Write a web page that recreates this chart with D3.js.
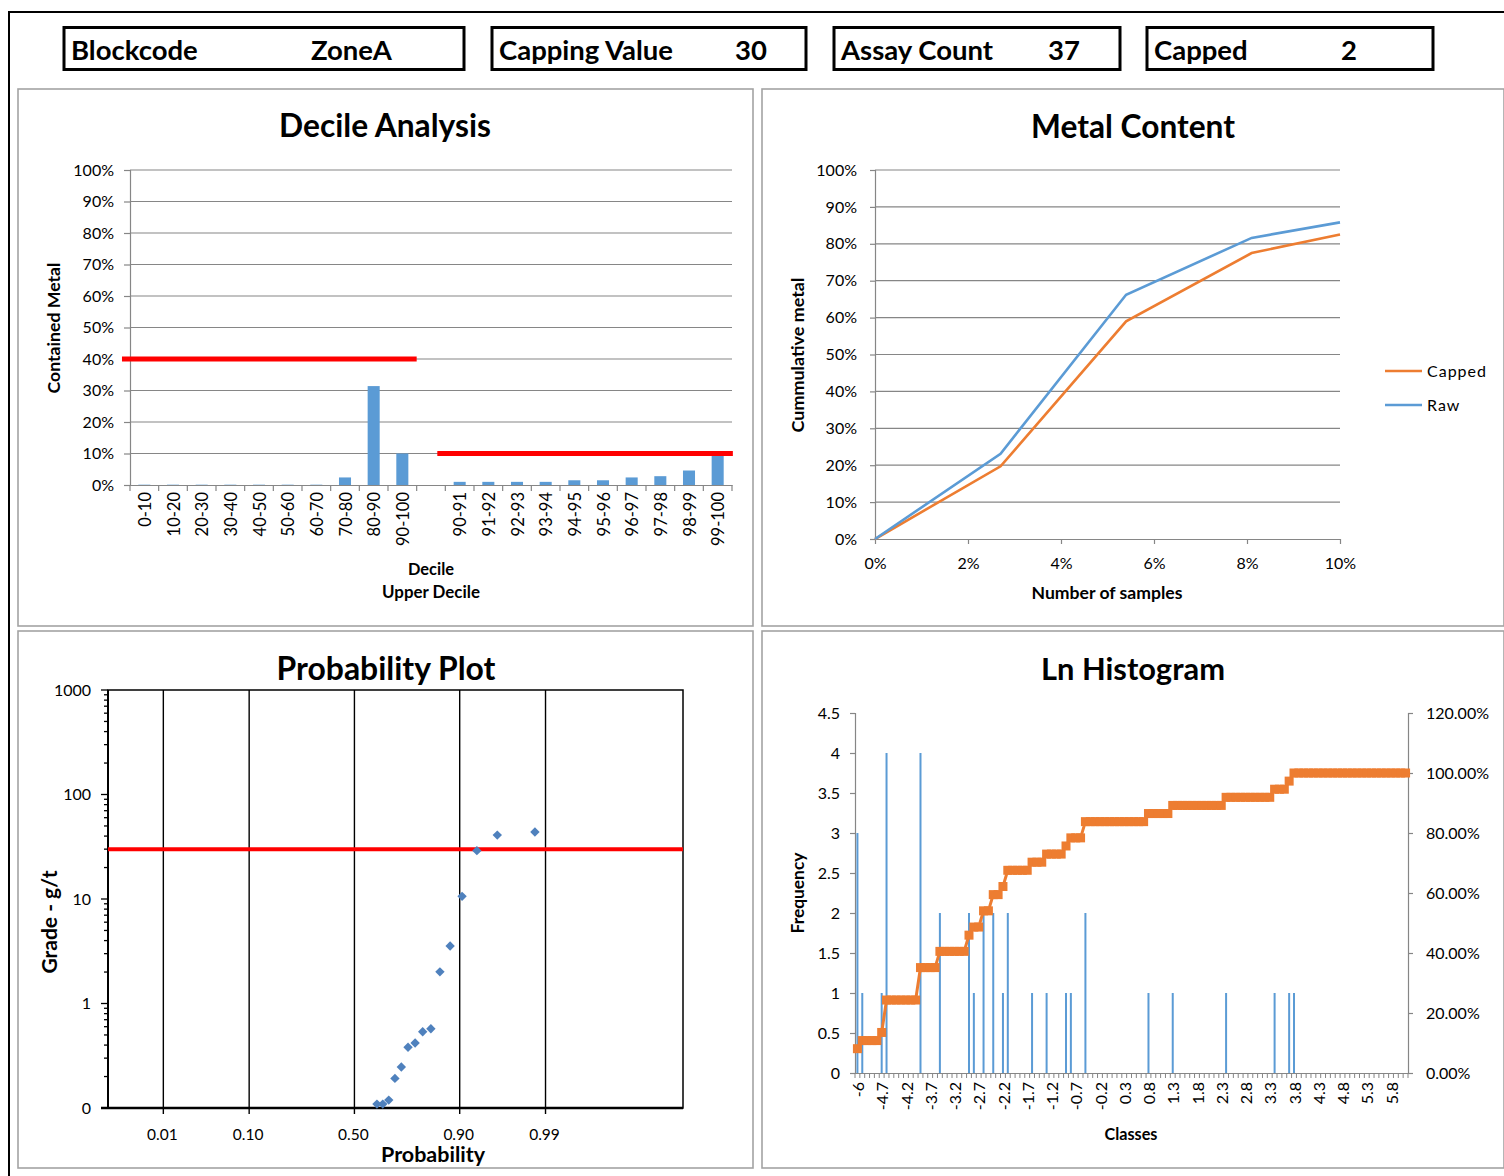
<!DOCTYPE html>
<html><head><meta charset="utf-8">
<script src="https://cdn.jsdelivr.net/npm/d3@7"></script>
<style>
html,body{margin:0;padding:0;background:#fff;}
svg{display:block;font-family:Lato,"Open Sans",sans-serif;}
</style></head><body>
<svg id="chart" width="1504" height="1176"></svg>
<script>
// ---------------- DATA ----------------
const headerLabels = ["Blockcode", "Capping Value", "Assay Count", "Capped"];
const headerValues = ["ZoneA", "30", "37", "2"];
const capValue = 30;

// Decile analysis
const decileCategories = ["0-10","10-20","20-30","30-40","40-50","50-60","60-70","70-80","80-90","90-100","",
  "90-91","91-92","92-93","93-94","94-95","95-96","96-97","97-98","98-99","99-100"];
const decileValues = [0.001,0.001,0.001,0.001,0.001,0.001,0.001,0.024,0.314,0.100,null,
  0.010,0.010,0.010,0.010,0.015,0.015,0.024,0.028,0.046,0.092];
const decileYTicks = [0,0.1,0.2,0.3,0.4,0.5,0.6,0.7,0.8,0.9,1];
const decileLimits = [0.40, 0.10];          // red reference levels
const decileLimitSpans = [[-0.28, 10], [10.72, 21.03]]; // in category units

// Metal content
const metalSamples = [0, 0.027, 0.054, 0.081, 0.100];
const metalCapped  = [0, 0.197, 0.590, 0.775, 0.825];
const metalRaw     = [0, 0.231, 0.662, 0.816, 0.858];
const metalXTicks = [0,0.02,0.04,0.06,0.08,0.10];
const metalYTicks = [0,0.1,0.2,0.3,0.4,0.5,0.6,0.7,0.8,0.9,1];

// Probability plot
const probP     = [0.608,0.635,0.662,0.689,0.716,0.743,0.770,0.797,0.824,0.851,0.878,0.905,0.932,0.959,0.986];
const probGrade = [0.109,0.109,0.119,0.192,0.247,0.381,0.419,0.537,0.574,2.01,3.55,10.6,29.0,40.9,43.8];
const probXTicks = [0.01,0.10,0.50,0.90,0.99];
const probXLabels = ["0.01","0.10","0.50","0.90","0.99"];
const probYTicks = [0.1,1,10,100,1000];
const probYLabels = ["0","1","10","100","1000"];

// Ln histogram
const histClasses = ("-6,-5.1,-5,-4.9,-4.8,-4.7,-4.6,-4.5,-4.4,-4.3,-4.2,-4.1,-4,-3.9,-3.8,-3.7,-3.6,-3.5,-3.4,-3.3,-3.2,-3.1,-3,-2.9,-2.8,-2.7,-2.6,-2.5,-2.4,-2.3,-2.2,-2.1,-2,-1.9,-1.8,-1.7,-1.6,-1.5,-1.4,-1.3,-1.2,-1.1,-1,-0.9,-0.8,-0.7,-0.6,-0.5,-0.4,-0.3,-0.2,-0.1,0,0.1,0.2,0.3,0.4,0.5,0.6,0.7,0.8,0.9,1,1.1,1.2,1.3,1.4,1.5,1.6,1.7,1.8,1.9,2,2.1,2.2,2.3,2.4,2.5,2.6,2.7,2.8,2.9,3,3.1,3.2,3.3,3.4,3.5,3.6,3.7,3.8,3.9,4,4.1,4.2,4.3,4.4,4.5,4.6,4.7,4.8,4.9,5,5.1,5.2,5.3,5.4,5.5,5.6,5.7,5.8,5.9,6,6.1").split(",");
const histBins   = ["-6","-5.1","-4.7","-4.6","-3.9","-3.5","-2.9","-2.8","-2.6","-2.4","-2.2","-2.1","-1.6","-1.3","-0.9","-0.8","-0.5","0.8","1.3","2.4","3.4","3.7","3.8"];
const histCounts = [3,1,1,4,4,2,2,1,2,2,1,2,1,1,1,1,2,1,1,1,1,1,1];
const histYTicks = [0,0.5,1,1.5,2,2.5,3,3.5,4,4.5];
const histY2Ticks = [0,0.2,0.4,0.6,0.8,1.0,1.2];

// ---------------- HELPERS ----------------
const BLUE = "#5B9BD5", ORANGE = "#ED7D31", RED = "#FF0000", GRID = "#868686";
const svg = d3.select("#chart");
svg.append("rect").attr("width",1504).attr("height",1176).attr("fill","#fff");

function txt(parent, x, y, s, o = {}) {
  const size = o.size || 16;
  const t = parent.append("text").attr("x", x).attr("y", y).text(s)
    .attr("font-size", size).attr("font-weight", o.bold ? "bold" : "normal")
    .attr("text-anchor", o.anchor || "start").attr("fill", "#000");
  if (o.spacing) t.attr("letter-spacing", o.spacing);
  if (o.rotate) t.attr("transform", `rotate(-90,${x},${y})`);
  if (o.fit) {
    const w = t.node().getComputedTextLength();
    t.attr("font-size", size * o.fit / w);
  }
  return t;
}
function styleAxis(g, size = 16) {
  g.attr("font-family", null).attr("font-size", null);
  g.selectAll("text").attr("fill", "#000").attr("font-size", size);
  g.select(".domain").attr("stroke", GRID).attr("stroke-width", 1.2);
  g.selectAll(".tick line").attr("stroke", GRID).attr("stroke-width", 1.2);
}
function panel(x, y, w, h) {
  svg.append("rect").attr("x", x).attr("y", y).attr("width", w).attr("height", h)
    .attr("fill", "none").attr("stroke", "#a3a3a3").attr("stroke-width", 1.6);
}
// inverse standard normal (Acklam)
function qnorm(p) {
  const a=[-3.969683028665376e+01,2.209460984245205e+02,-2.759285104469687e+02,1.383577518672690e+02,-3.066479806614716e+01,2.506628277459239e+00];
  const b=[-5.447609879822406e+01,1.615858368580409e+02,-1.556989798598866e+02,6.680131188771972e+01,-1.328068155288572e+01];
  const c=[-7.784894002430293e-03,-3.223964580411365e-01,-2.400758277161838e+00,-2.549732539343734e+00,4.374664141464968e+00,2.938163982698783e+00];
  const d=[7.784695709041462e-03,3.224671290700398e-01,2.445134137142996e+00,3.754408661907416e+00];
  const pl=0.02425, ph=1-pl; let q, r;
  if (p < pl) { q=Math.sqrt(-2*Math.log(p)); return (((((c[0]*q+c[1])*q+c[2])*q+c[3])*q+c[4])*q+c[5])/((((d[0]*q+d[1])*q+d[2])*q+d[3])*q+1); }
  if (p <= ph) { q=p-0.5; r=q*q; return (((((a[0]*r+a[1])*r+a[2])*r+a[3])*r+a[4])*r+a[5])*q/(((((b[0]*r+b[1])*r+b[2])*r+b[3])*r+b[4])*r+1); }
  q=Math.sqrt(-2*Math.log(1-p)); return -(((((c[0]*q+c[1])*q+c[2])*q+c[3])*q+c[4])*q+c[5])/((((d[0]*q+d[1])*q+d[2])*q+d[3])*q+1);
}

// ---------------- FRAME & HEADER ----------------
svg.append("path").attr("d","M9,1176 V12 H1504").attr("fill","none").attr("stroke","#000").attr("stroke-width",2);

const boxLayout = [[64,464,311],[492,806,735],[834,1120,1048],[1147,1433,1341]];
const probe = txt(svg, 0, -100, headerLabels[1], {size: 26, bold: true, fit: 174});
const headSize = +probe.attr("font-size"); probe.remove();
boxLayout.forEach((b, i) => {
  svg.append("rect").attr("x", b[0]).attr("y", 27.5).attr("width", b[1]-b[0]).attr("height", 42)
    .attr("fill", "none").attr("stroke", "#000").attr("stroke-width", 3);
  txt(svg, b[0]+7, 60, headerLabels[i], {size: headSize, bold: true});
  txt(svg, b[2], 60, headerValues[i], {size: headSize, bold: true});
});

// ---------------- PANELS ----------------
panel(18, 89, 735, 537);
panel(762, 89, 742, 537);
panel(18, 631, 735, 537);
panel(762, 631, 742, 537);

// ===== Decile Analysis =====
{
  const g = svg.append("g");
  txt(g, 385, 137, "Decile Analysis", {size: 30, bold: true, anchor: "middle", fit: 212});
  const x = d3.scaleBand().domain(decileCategories).range([130, 732]);
  const y = d3.scaleLinear().domain([0, 1]).range([485, 170]);
  g.selectAll("line.grid").data(decileYTicks.slice(1)).join("line")
    .attr("x1", 130).attr("x2", 732).attr("y1", d => y(d)).attr("y2", d => y(d))
    .attr("stroke", GRID).attr("stroke-width", 1.2);
  const ya = g.append("g").attr("transform", "translate(130,0)")
    .call(d3.axisLeft(y).tickValues(decileYTicks).tickFormat(d3.format(".0%")).tickSize(6).tickPadding(10));
  styleAxis(ya);
  const xa = g.append("g").attr("transform", "translate(0,485)")
    .call(d3.axisBottom(x).tickSize(0).tickSizeOuter(0));
  styleAxis(xa, 16.5);
  xa.selectAll("text").attr("transform", "rotate(-90)").attr("x", -7).attr("y", 1)
    .attr("dy", "0.35em").attr("text-anchor", "end");
  const bounds = decileCategories.map(c => x(c)).concat([x.range()[1]]);
  g.selectAll("line.xt").data(bounds).join("line")
    .attr("x1", d => d).attr("x2", d => d).attr("y1", 485).attr("y2", 491)
    .attr("stroke", GRID).attr("stroke-width", 1.2);
  const bw = x.bandwidth() * 0.42;
  g.selectAll("rect.bar").data(decileCategories.map((c, i) => ({c, v: decileValues[i]})).filter(d => d.v != null))
    .join("rect").attr("x", d => x(d.c) + (x.bandwidth() - bw) / 2).attr("width", bw)
    .attr("y", d => y(d.v)).attr("height", d => y(0) - y(d.v)).attr("fill", BLUE);
  const xi = d3.scaleLinear().domain([0, decileCategories.length]).range(x.range());
  decileLimits.forEach((v, i) => {
    g.append("line").attr("x1", xi(decileLimitSpans[i][0])).attr("x2", xi(decileLimitSpans[i][1]))
      .attr("y1", y(v)).attr("y2", y(v)).attr("stroke", RED).attr("stroke-width", 5);
  });
  txt(g, 431, 575, "Decile", {size: 16, bold: true, anchor: "middle", fit: 46});
  txt(g, 431, 598, "Upper Decile", {size: 16, bold: true, anchor: "middle", fit: 98});
  txt(g, 60, 328, "Contained Metal", {size: 16, bold: true, anchor: "middle", rotate: true, fit: 131});
}

// ===== Metal Content =====
{
  const g = svg.append("g");
  txt(g, 1133, 138, "Metal Content", {size: 30, bold: true, anchor: "middle", fit: 204});
  const x = d3.scaleLinear().domain([0, 0.1]).range([875, 1340]);
  const y = d3.scaleLinear().domain([0, 1]).range([539, 170]);
  g.selectAll("line.grid").data(metalYTicks.slice(1)).join("line")
    .attr("x1", 875).attr("x2", 1340).attr("y1", d => y(d)).attr("y2", d => y(d))
    .attr("stroke", GRID).attr("stroke-width", 1.2);
  const ya = g.append("g").attr("transform", "translate(875,0)")
    .call(d3.axisLeft(y).tickValues(metalYTicks).tickFormat(d3.format(".0%")).tickSize(5).tickPadding(13));
  styleAxis(ya);
  const xa = g.append("g").attr("transform", "translate(0,539)")
    .call(d3.axisBottom(x).tickValues(metalXTicks).tickFormat(d3.format(".0%")).tickSize(5).tickPadding(14).tickSizeOuter(0));
  styleAxis(xa);
  const line = d3.line().x((d, i) => x(metalSamples[i])).y(d => y(d));
  g.append("path").datum(metalCapped).attr("d", line).attr("fill", "none").attr("stroke", ORANGE).attr("stroke-width", 2.6);
  g.append("path").datum(metalRaw).attr("d", line).attr("fill", "none").attr("stroke", BLUE).attr("stroke-width", 2.6);
  // legend
  [["Capped", ORANGE, 371], ["Raw", BLUE, 405]].forEach(([n, c, ly]) => {
    g.append("line").attr("x1", 1385).attr("x2", 1422).attr("y1", ly).attr("y2", ly).attr("stroke", c).attr("stroke-width", 2.6);
    txt(g, 1427, ly + 6, n, {size: 16, spacing: 1});
  });
  txt(g, 1107, 599, "Number of samples", {size: 16, bold: true, anchor: "middle", fit: 151});
  txt(g, 804, 355, "Cummulative metal", {size: 16, bold: true, anchor: "middle", rotate: true, fit: 155});
}

// ===== Probability Plot =====
{
  const g = svg.append("g");
  txt(g, 386, 680, "Probability Plot", {size: 30, bold: true, anchor: "middle", fit: 219});
  const x = d3.scaleLinear().domain([-3, 4]).range([108, 683]);
  const y = d3.scaleLog().domain([0.1, 1000]).range([1108, 690]);
  // frame
  g.append("rect").attr("x", 108).attr("y", 690).attr("width", 575).attr("height", 418)
    .attr("fill", "none").attr("stroke", "#000").attr("stroke-width", 1.5);
  // vertical grid
  g.selectAll("line.vg").data(probXTicks).join("line")
    .attr("x1", d => x(qnorm(d))).attr("x2", d => x(qnorm(d))).attr("y1", 690).attr("y2", 1114)
    .attr("stroke", "#000").attr("stroke-width", 1.4);
  // y ticks (major + minor)
  const allTicks = y.ticks();
  g.selectAll("line.yt").data(allTicks).join("line")
    .attr("x1", d => probYTicks.includes(d) ? 101 : 104).attr("x2", 108)
    .attr("y1", d => y(d)).attr("y2", d => y(d)).attr("stroke", "#000").attr("stroke-width", 1.3);
  g.selectAll("text.yl").data(probYTicks).join("text")
    .attr("x", 91).attr("y", d => y(d)).attr("dy", "0.35em").attr("text-anchor", "end")
    .attr("font-size", 16).text((d, i) => probYLabels[i]);
  // axes lines
  g.append("line").attr("x1", 108).attr("x2", 108).attr("y1", 690).attr("y2", 1108).attr("stroke", "#000").attr("stroke-width", 2);
  g.append("line").attr("x1", 101).attr("x2", 683).attr("y1", 1108).attr("y2", 1108).attr("stroke", "#000").attr("stroke-width", 2.5);
  g.selectAll("text.xl").data(probXTicks).join("text")
    .attr("x", d => x(qnorm(d)) - 1).attr("y", 1140).attr("text-anchor", "middle")
    .attr("font-size", 15.5).text((d, i) => probXLabels[i]);
  // cap line
  g.append("line").attr("x1", 108).attr("x2", 683).attr("y1", y(capValue)).attr("y2", y(capValue))
    .attr("stroke", RED).attr("stroke-width", 4);
  // points
  const sym = d3.symbol().type(d3.symbolSquare).size(44);
  g.selectAll("path.pt").data(probP.map((p, i) => [p, probGrade[i]])).join("path")
    .attr("d", sym).attr("fill", "#4F81BD")
    .attr("transform", d => `translate(${x(qnorm(d[0]))},${y(d[1])}) rotate(45)`);
  txt(g, 433, 1162, "Probability", {size: 20, bold: true, anchor: "middle", fit: 104});
  txt(g, 57, 922, "Grade - g/t", {size: 20, bold: true, anchor: "middle", rotate: true, fit: 103});
}

// ===== Ln Histogram =====
{
  const g = svg.append("g");
  txt(g, 1133, 680, "Ln Histogram", {size: 30, bold: true, anchor: "middle", fit: 184});
  const x = d3.scaleBand().domain(histClasses).range([855, 1408]);
  const y = d3.scaleLinear().domain([0, 4.5]).range([1073, 713]);
  const y2 = d3.scaleLinear().domain([0, 1.2]).range([1073, 713]);
  const countMap = new Map(histBins.map((b, i) => [b, histCounts[i]]));
  const counts = histClasses.map(c => countMap.get(c) || 0);
  const total = d3.sum(counts);
  const cum = Array.from(d3.cumsum(counts), v => v / total);

  const ya = g.append("g").attr("transform", "translate(855,0)")
    .call(d3.axisLeft(y).tickValues(histYTicks).tickFormat(d3.format("")).tickSize(5).tickPadding(10));
  styleAxis(ya);
  const y2a = g.append("g").attr("transform", "translate(1408,0)")
    .call(d3.axisRight(y2).tickValues(histY2Ticks).tickFormat(d3.format(".2%")).tickSize(5).tickPadding(13));
  styleAxis(y2a);
  const xa = g.append("g").attr("transform", "translate(0,1073)")
    .call(d3.axisBottom(x).tickValues(histClasses.filter((d, i) => i % 5 === 0)).tickSize(0).tickSizeOuter(0));
  styleAxis(xa, 16);
  xa.selectAll("text").attr("transform", "rotate(-90)").attr("x", -9).attr("y", 1)
    .attr("dy", "0.35em").attr("text-anchor", "end");
  const bounds = histClasses.map(c => x(c)).concat([x.range()[1]]);
  g.selectAll("line.xt").data(bounds).join("line")
    .attr("x1", d => d).attr("x2", d => d).attr("y1", 1073).attr("y2", 1078)
    .attr("stroke", GRID).attr("stroke-width", 1);
  // bars
  const bw = 2;
  g.selectAll("rect.bar").data(histClasses.map((c, i) => ({c, v: counts[i]})).filter(d => d.v > 0))
    .join("rect").attr("x", d => x(d.c) + x.bandwidth() / 2 - bw / 2).attr("width", bw)
    .attr("y", d => y(d.v)).attr("height", d => y(0) - y(d.v)).attr("fill", BLUE);
  // cumulative line with square markers
  const cx = c => x(c) + x.bandwidth() / 2;
  g.append("path").datum(cum).attr("d", d3.line().x((d, i) => cx(histClasses[i])).y(d => y2(d)))
    .attr("fill", "none").attr("stroke", ORANGE).attr("stroke-width", 3);
  g.selectAll("rect.mk").data(cum).join("rect")
    .attr("x", (d, i) => cx(histClasses[i]) - 4.5).attr("y", d => y2(d) - 4.5)
    .attr("width", 9).attr("height", 9).attr("fill", ORANGE);
  txt(g, 1131, 1140, "Classes", {size: 16, bold: true, anchor: "middle", fit: 53});
  txt(g, 804, 893, "Frequency", {size: 16, bold: true, anchor: "middle", rotate: true, fit: 81});
}
</script>
</body></html>
